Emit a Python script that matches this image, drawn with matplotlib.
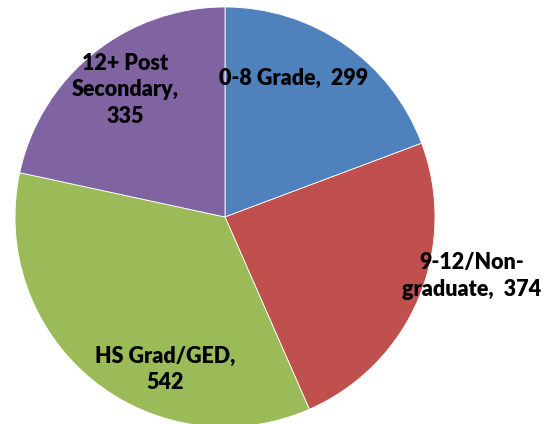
import matplotlib.pyplot as plt

categories = ['0-8 Grade', '9-12/Non-\ngraduate', 'HS Grad/GED', '12+ Post\nSecondary']
counts = [299, 374, 542, 335]
colors = ['#4F81BD', '#C0504D', '#9BBB59', '#8064A2']

# label text and where it sits (pixels, y from top)
label_texts = ['0-8 Grade,  299', '9-12/Non-\ngraduate,  374', 'HS Grad/GED,\n542', '12+ Post\nSecondary,\n335']
label_pos = [(294, 78), (472, 276), (165, 369), (125, 90)]

fig = plt.figure(figsize=(5.6, 4.24), dpi=100)
ax = fig.add_axes([0, 0, 1, 1])

ax.pie(counts, colors=colors, startangle=90, counterclock=False,
       center=(225, 424 - 217), radius=210, frame=True,
       wedgeprops=dict(edgecolor='white', linewidth=0.6))
ax.set_xlim(0, 560)
ax.set_ylim(0, 424)
ax.set_aspect('equal')
ax.axis('off')

for txt, (x, y) in zip(label_texts, label_pos):
    ax.text(x, 424 - y, txt, ha='center', va='center', fontsize=15.5,
            fontweight='heavy', family='Lato', linespacing=1.3, color='black')

plt.savefig('out.png', dpi=100)
